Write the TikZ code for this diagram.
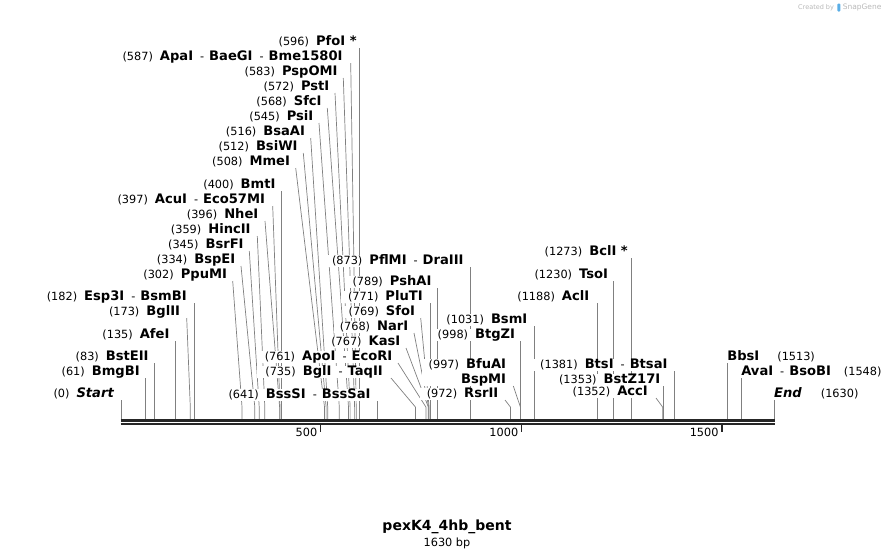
\documentclass[tikz,border=0pt]{standalone}
\usepackage{fontspec}
\setmainfont{DejaVu Sans}
\usepackage{xcolor}
\usetikzlibrary{positioning}
\pgfdeclarelayer{background}
\pgfsetlayers{background,main}
\definecolor{cutGrey}{HTML}{808080}
\definecolor{bbDark}{HTML}{262626}
\definecolor{brandGrey}{HTML}{B8B8B8}
\definecolor{brandBlue}{HTML}{5AAEE6}
\newcommand{\enz}[1]{{\fontsize{13.1pt}{15pt}\selectfont\bfseries #1}}
\newcommand{\enzsep}{\hspace{7pt}-\hspace{5pt}}
\newcommand{\numgap}{\hspace{7pt}}

\begin{document}
\begin{tikzpicture}[x=1pt, y=-1pt,
    font=\fontsize{11.3pt}{13pt}\selectfont,
    lab/.style={fill=white, inner xsep=5.5pt, inner ysep=0pt, text depth=2pt, anchor=south east},
    labR/.style={lab, inner xsep=0pt, anchor=south west},
    cut/.style={draw=cutGrey, line width=0.7pt},
    backbone/.style={draw=bbDark},
    tick/.style={draw=bbDark, line width=1.5pt},
    ruler/.style={anchor=east, inner sep=1pt},
    brand/.style={font=\fontsize{6.5pt}{8pt}\selectfont, text=brandGrey, inner sep=0pt},
  ]
\useasboundingbox (0,0) rectangle (896,558);

% ===== cut sites on the backbone =====
\coordinate (s0) at (121.0,419);    \coordinate (s61) at (145.4,419);   \coordinate (s83) at (154.3,419);
\coordinate (s135) at (175.1,419);  \coordinate (s173) at (190.3,419);  \coordinate (s182) at (193.9,419);
\coordinate (s302) at (242.0,419);  \coordinate (s334) at (254.8,419);  \coordinate (s345) at (259.2,419);
\coordinate (s359) at (264.8,419);  \coordinate (s396) at (279.6,419);  \coordinate (s397) at (280.0,419);
\coordinate (s400) at (281.2,419);  \coordinate (s508) at (324.5,419);  \coordinate (s512) at (326.1,419);
\coordinate (s516) at (327.7,419);  \coordinate (s545) at (339.3,419);  \coordinate (s568) at (348.5,419);
\coordinate (s572) at (350.1,419);  \coordinate (s583) at (354.6,419);  \coordinate (s587) at (356.2,419);
\coordinate (s596) at (359.8,419);  \coordinate (s641) at (377.8,419);  \coordinate (s735) at (415.4,419);
\coordinate (s761) at (425.9,419);  \coordinate (s767) at (428.3,419);  \coordinate (s768) at (428.7,419);
\coordinate (s769) at (429.1,419);  \coordinate (s771) at (429.9,419);  \coordinate (s789) at (437.1,419);
\coordinate (s873) at (470.7,419);  \coordinate (s972) at (510.4,419);  \coordinate (s997) at (520.4,419);
\coordinate (s998) at (520.8,419);  \coordinate (s1031) at (534.0,419); \coordinate (s1188) at (596.9,419);
\coordinate (s1230) at (613.7,419); \coordinate (s1273) at (631.0,419); \coordinate (s1352) at (662.6,419);
\coordinate (s1353) at (663.0,419); \coordinate (s1381) at (674.2,419); \coordinate (s1513) at (727.1,419);
\coordinate (s1548) at (741.1,419); \coordinate (s1630) at (774.0,419);

% ===== backbone and ruler =====
\draw[backbone, line width=2.6pt] (120.5,420.5) -- (774.8,420.5);
\draw[backbone, line width=2pt] (120.5,424.3) -- (774.8,424.3);
\draw[tick] (320.7,425) -- (320.7,431.5);
\draw[tick] (521.6,425) -- (521.6,431.5);
\draw[tick] (721.9,425) -- (721.9,431.5);
\node[ruler] (r500) at (318.5,432) {500};
\node[ruler] (r1000) at (519.4,432) {1000};
\node[ruler] (r1500) at (719.7,432) {1500};

% ===== upper left stack =====
\node[lab, inner xsep=3pt] (pfoI) at (359.8,48) {(596)\numgap\enz{PfoI *}};
\node[lab, inner xsep=8pt] (apaI) at (350.7,63) {(587)\numgap\enz{ApaI}\enzsep\enz{BaeGI}\enzsep\enz{Bme1580I}};
\node[lab] (pspOMI) at (343.3,78) {(583)\numgap\enz{PspOMI}};
\node[lab] (pstI) at (335.0,93) {(572)\numgap\enz{PstI}};
\node[lab] (sfcI) at (327.3,108) {(568)\numgap\enz{SfcI}};
\node[lab] (psiI) at (319.0,123) {(545)\numgap\enz{PsiI}};
\node[lab] (bsaAI) at (310.7,138) {(516)\numgap\enz{BsaAI}};
\node[lab] (bsiWI) at (303.3,153) {(512)\numgap\enz{BsiWI}};
\node[lab] (mmeI) at (295.7,168) {(508)\numgap\enz{MmeI}};

\begin{pgfonlayer}{background}
\draw[cut] (pfoI.south east) -- ([yshift=12pt]s596) -- (s596);
\draw[cut] (apaI.south east) -- ([yshift=12pt]s587) -- (s587);
\draw[cut] (pspOMI.south east) -- ([yshift=12pt]s583) -- (s583);
\draw[cut] (pstI.south east) -- ([yshift=12pt]s572) -- (s572);
\draw[cut] (sfcI.south east) -- ([yshift=12pt]s568) -- (s568);
\draw[cut] (psiI.south east) -- ([yshift=12pt]s545) -- (s545);
\draw[cut] (bsaAI.south east) -- ([yshift=12pt]s516) -- (s516);
\draw[cut] (bsiWI.south east) -- ([yshift=12pt]s512) -- (s512);
\draw[cut] (mmeI.south east) -- ([yshift=12pt]s508) -- (s508);
\end{pgfonlayer}

% ===== lower left stack =====
\node[lab] (bmtI) at (281.2,191) {(400)\numgap\enz{BmtI}};
\node[lab, inner xsep=7.5pt] (acuI) at (272.7,206) {(397)\numgap\enz{AcuI}\enzsep\enz{Eco57MI}};
\node[lab, inner xsep=6.5pt] (nheI) at (265.0,221) {(396)\numgap\enz{NheI}};
\node[lab, inner xsep=6.5pt] (hincII) at (257.3,236) {(359)\numgap\enz{HincII}};
\node[lab] (bsrFI) at (249.3,251) {(345)\numgap\enz{BsrFI}};
\node[lab] (bspEI) at (241.0,266) {(334)\numgap\enz{BspEI}};
\node[lab] (ppuMI) at (232.7,281) {(302)\numgap\enz{PpuMI}};
\node[lab, inner xsep=7pt] (esp3I) at (193.9,303) {(182)\numgap\enz{Esp3I}\enzsep\enz{BsmBI}};
\node[lab, inner xsep=6.5pt] (bglII) at (186.7,318) {(173)\numgap\enz{BglII}};
\node[lab] (afeI) at (175.1,341) {(135)\numgap\enz{AfeI}};
\node[lab] (bstEII) at (154.3,363) {(83)\numgap\enz{BstEII}};
\node[lab] (bmgBI) at (145.4,378) {(61)\numgap\enz{BmgBI}};
\node[lab, inner xsep=7pt] (startL) at (121.0,400) {(0)\numgap\enz{\itshape Start}};

\begin{pgfonlayer}{background}
\draw[cut] (bmtI.south east) -- ([yshift=12pt]s400) -- (s400);
\draw[cut] (acuI.south east) -- ([yshift=12pt]s397) -- (s397);
\draw[cut] (nheI.south east) -- ([yshift=12pt]s396) -- (s396);
\draw[cut] (hincII.south east) -- ([yshift=12pt]s359) -- (s359);
\draw[cut] (bsrFI.south east) -- ([yshift=12pt]s345) -- (s345);
\draw[cut] (bspEI.south east) -- ([yshift=12pt]s334) -- (s334);
\draw[cut] (ppuMI.south east) -- ([yshift=12pt]s302) -- (s302);
\draw[cut] (esp3I.south east) -- ([yshift=12pt]s182) -- (s182);
\draw[cut] (bglII.south east) -- ([yshift=12pt]s173) -- (s173);
\draw[cut] (afeI.south east) -- ([yshift=12pt]s135) -- (s135);
\draw[cut] (bstEII.south east) -- ([yshift=12pt]s83) -- (s83);
\draw[cut] (bmgBI.south east) -- ([yshift=12pt]s61) -- (s61);
\draw[cut] (startL.south east) -- (s0);
\end{pgfonlayer}

% ===== middle stack =====
\node[lab, inner xsep=7pt] (pflMI) at (470.7,267) {(873)\numgap\enz{PflMI}\enzsep\enz{DraIII}};
\node[lab] (pshAI) at (437.1,288) {(789)\numgap\enz{PshAI}};
\node[lab, inner xsep=7pt] (pluTI) at (429.9,303) {(771)\numgap\enz{PluTI}};
\node[lab] (sfoI) at (420.7,318) {(769)\numgap\enz{SfoI}};
\node[lab] (narI) at (414.0,333) {(768)\numgap\enz{NarI}};
\node[lab] (kasI) at (406.0,348) {(767)\numgap\enz{KasI}};
\node[lab] (apoI) at (398.0,363) {(761)\numgap\enz{ApoI}\enzsep\enz{EcoRI}};
\node[lab, inner xsep=8pt] (bglI) at (391.0,378) {(735)\numgap\enz{BglI}\enzsep\enz{TaqII}};
\node[lab, inner xsep=7pt] (bssSI) at (377.8,401) {(641)\numgap\enz{BssSI}\enzsep\enz{BssSaI}};

\begin{pgfonlayer}{background}
\draw[cut] (pflMI.south east) -- ([yshift=12pt]s873) -- (s873);
\draw[cut] (pshAI.south east) -- ([yshift=12pt]s789) -- (s789);
\draw[cut] (pluTI.south east) -- ([yshift=12pt]s771) -- (s771);
\draw[cut] (sfoI.south east) -- ([yshift=12pt]s769) -- (s769);
\draw[cut] (narI.south east) -- ([yshift=12pt]s768) -- (s768);
\draw[cut] (kasI.south east) -- ([yshift=12pt]s767) -- (s767);
\draw[cut] (apoI.south east) -- ([yshift=12pt]s761) -- (s761);
\draw[cut] (bglI.south east) -- ([yshift=12pt]s735) -- (s735);
\draw[cut] (bssSI.south east) -- (s641);
\end{pgfonlayer}

\node[lab, inner xsep=6.5pt] (bsmI) at (534.0,326) {(1031)\numgap\enz{BsmI}};
\node[lab] (btgZI) at (520.8,341) {(998)\numgap\enz{BtgZI}};
\node[lab, align=right, inner xsep=7pt] (bfuAI) at (513.3,386) {(997)\numgap\enz{BfuAI}\\[2pt]\enz{BspMI}};
\node[lab, inner xsep=6.5pt] (rsrII) at (505.0,400) {(972)\numgap\enz{RsrII}};

\begin{pgfonlayer}{background}
\draw[cut] (bsmI.south east) -- (s1031);
\draw[cut] (btgZI.south east) -- (s998);
\draw[cut] (bfuAI.south east) -- ([yshift=12pt]s997) -- (s997);
\draw[cut] (rsrII.south east) -- ([yshift=12pt]s972) -- (s972);
\end{pgfonlayer}

% ===== right group =====
\node[lab, inner xsep=3pt] (bclI) at (631.0,258) {(1273)\numgap\enz{BclI *}};
\node[lab] (tsoI) at (613.7,281) {(1230)\numgap\enz{TsoI}};
\node[lab, inner xsep=7.5pt] (aclI) at (596.9,303) {(1188)\numgap\enz{AclI}};
\node[lab, inner xsep=6.5pt] (btsI) at (674.2,371) {(1381)\numgap\enz{BtsI}\enzsep\enz{BtsaI}};
\node[lab, inner xsep=2.5pt] (bstZ17I) at (663.0,386) {(1353)\numgap\enz{BstZ17I}};
\node[lab, inner xsep=8pt] (accI) at (656.0,398) {(1352)\numgap\enz{AccI}};

\node[labR] (bbsI) at (727.1,363) {\enz{BbsI}\hspace{18pt}(1513)};
\node[labR] (avaI) at (741.1,378) {\enz{AvaI}\enzsep\enz{BsoBI}\hspace{13pt}(1548)};
\node[labR] (endL) at (774.0,400) {\enz{\itshape End}\hspace{19pt}(1630)};

\begin{pgfonlayer}{background}
\draw[cut] (bclI.south east) -- (s1273);
\draw[cut] (tsoI.south east) -- (s1230);
\draw[cut] (aclI.south east) -- (s1188);
\draw[cut] (btsI.south east) -- (s1381);
\draw[cut] (bstZ17I.south east) -- (s1353);
\draw[cut] (accI.south east) -- ([yshift=12pt]s1352) -- (s1352);
\draw[cut] (bbsI.south west) -- (s1513);
\draw[cut] (avaI.south west) -- (s1548);
\draw[cut] (endL.south west) -- (s1630);
\end{pgfonlayer}

% ===== title =====
\node[font=\fontsize{14pt}{17pt}\selectfont\bfseries] (title) at (447,527) {pexK4\_4hb\_bent};
\node[below=-3pt of title] (length) {1630 bp};

% ===== brand mark =====
\node[brand, anchor=west] (created) at (798,7.5) {Created by};
\node[fill=brandBlue, inner sep=0pt, minimum width=3pt, minimum height=8pt, rounded corners=1pt, right=3pt of created] (logo) {};
\node[brand, font=\fontsize{7.5pt}{9pt}\selectfont, right=2pt of logo] (snapgene) {SnapGene};

\end{tikzpicture}
\end{document}
